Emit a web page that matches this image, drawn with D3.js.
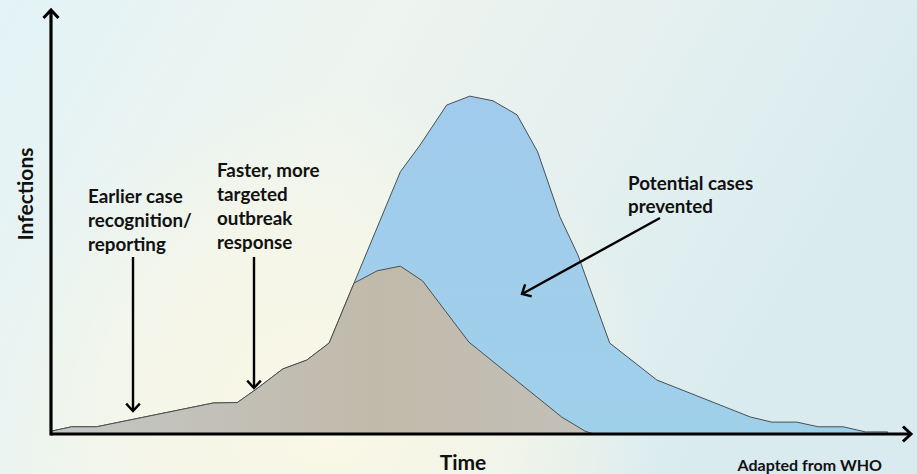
<!DOCTYPE html>
<html>
<head>
<meta charset="utf-8">
<script src="https://cdn.jsdelivr.net/npm/d3@7"></script>
<style>
  html, body { margin: 0; padding: 0; background: #eef5f3; }
  svg { display: block; }
</style>
</head>
<body>
<div id="chart"></div>
<script>
// ---------- data ----------
// time axis (0-100, arbitrary units) and infections (0-100, arbitrary units)
const timeControlled = [0, 2.3, 5.2, 18.8, 21.6, 23.7, 26.9, 29.7, 32.3, 35.2, 37.9, 40.6, 43.2, 48.6, 59.4, 62.1, 63.1];
const infectionsControlled = [0.7, 1.7, 1.7, 7.3, 7.4, 10.4, 15.3, 17.4, 21.4, 35.5, 38.4, 39.5, 36.0, 21.6, 4.0, 0.7, 0];

const timeUncontrolled = [0, 2.3, 5.2, 18.8, 21.6, 23.7, 26.9, 29.7, 32.3, 35.2, 40.6, 42.9, 46.0, 48.7, 51.4, 54.2, 56.6, 59.2, 61.3, 65.0, 70.5, 81.4, 83.9, 86.8, 89.3, 92.2, 94.8, 97.4, 97.4];
const infectionsUncontrolled = [0.7, 1.7, 1.7, 7.3, 7.4, 10.4, 15.3, 17.4, 21.4, 35.5, 61.7, 68.0, 77.4, 79.5, 78.4, 75.1, 66.4, 51.1, 42.1, 21.4, 12.7, 4.0, 2.8, 2.8, 1.7, 1.7, 0.5, 0.5, 0];

const axisLabels = { x: "Time", y: "Infections" };
const annotations = [
  { lines: ["Earlier case", "recognition/", "reporting"] },
  { lines: ["Faster, more", "targeted", "outbreak", "response"] },
  { lines: ["Potential cases", "prevented"] }
];
const sourceNote = "Adapted from WHO";

// ---------- layout ----------
const W = 917, H = 474;
const svg = d3.select("#chart").append("svg").attr("width", W).attr("height", H);
const defs = svg.append("defs");

const x = d3.scaleLinear().domain([0, 100]).range([52, 910]);
const y = d3.scaleLinear().domain([0, 100]).range([434, 9]);

// background gradients
const bg = defs.append("linearGradient").attr("id", "bg").attr("x1", 0).attr("y1", 0).attr("x2", 1).attr("y2", 0.3);
bg.append("stop").attr("offset", "0%").attr("stop-color", "#e3f3f6");
bg.append("stop").attr("offset", "40%").attr("stop-color", "#eef4ef");
bg.append("stop").attr("offset", "100%").attr("stop-color", "#d9ebef");
const cream = defs.append("radialGradient").attr("id", "cream")
  .attr("gradientUnits", "userSpaceOnUse").attr("cx", 330).attr("cy", 420).attr("r", 330);
cream.append("stop").attr("offset", "0%").attr("stop-color", "#fbf8e6").attr("stop-opacity", 1);
cream.append("stop").attr("offset", "55%").attr("stop-color", "#f8f7e6").attr("stop-opacity", 0.7);
cream.append("stop").attr("offset", "100%").attr("stop-color", "#f8f7e6").attr("stop-opacity", 0);

svg.append("rect").attr("width", W).attr("height", H).attr("fill", "url(#bg)");
svg.append("rect").attr("width", W).attr("height", H).attr("fill", "url(#cream)");

// fills
const blueG = defs.append("linearGradient").attr("id", "blueG").attr("x1", 0).attr("y1", 0).attr("x2", 0).attr("y2", 1);
blueG.append("stop").attr("offset", "0%").attr("stop-color", "#a1cbec");
blueG.append("stop").attr("offset", "100%").attr("stop-color", "#9fd0ea");
const grayG = defs.append("linearGradient").attr("id", "grayG")
  .attr("gradientUnits", "userSpaceOnUse").attr("x1", 52).attr("y1", 0).attr("x2", 593).attr("y2", 0);
grayG.append("stop").attr("offset", "0%").attr("stop-color", "#c4c6c5");
grayG.append("stop").attr("offset", "60%").attr("stop-color", "#c0baaa");
grayG.append("stop").attr("offset", "100%").attr("stop-color", "#c3c0b8");

const uncontrolled = timeUncontrolled.map((t, i) => [t, infectionsUncontrolled[i]]);
const controlled = timeControlled.map((t, i) => [t, infectionsControlled[i]]);

const area = d3.area().x(d => x(d[0])).y0(y(0)).y1(d => y(d[1]));
const line = d3.line().x(d => x(d[0])).y(d => y(d[1]));

svg.append("path").datum(uncontrolled).attr("d", area).attr("fill", "url(#blueG)");
svg.append("path").datum(uncontrolled).attr("d", line).attr("fill", "none").attr("stroke", "#4a4f52").attr("stroke-width", 1);
svg.append("path").datum(controlled).attr("d", area).attr("fill", "url(#grayG)");
svg.append("path").datum(controlled).attr("d", line).attr("fill", "none").attr("stroke", "#4a4f52").attr("stroke-width", 1);

// axes with arrowheads
function chevron(g, tx, ty, dir, size, sw) {
  let ang = dir === "up" ? -Math.PI / 2 : dir === "down" ? Math.PI / 2 : dir === "right" ? 0 : dir;
  const a1 = ang + Math.PI - 0.75, a2 = ang + Math.PI + 0.75;
  const p = d3.path();
  p.moveTo(tx + size * Math.cos(a1), ty + size * Math.sin(a1));
  p.lineTo(tx, ty);
  p.lineTo(tx + size * Math.cos(a2), ty + size * Math.sin(a2));
  g.append("path").attr("d", p.toString()).attr("fill", "none").attr("stroke", "#000")
    .attr("stroke-width", sw).attr("stroke-linejoin", "miter").attr("stroke-linecap", "butt");
}

const axes = svg.append("g");
axes.append("line").attr("x1", x(0) - 1).attr("x2", x(100)).attr("y1", y(0)).attr("y2", y(0))
  .attr("stroke", "#000").attr("stroke-width", 3.2);
axes.append("line").attr("x1", x(0) - 1).attr("x2", x(0) - 1).attr("y1", y(0) + 1.6).attr("y2", y(100) + 1)
  .attr("stroke", "#000").attr("stroke-width", 3.2);
chevron(axes, x(0) - 1, y(100) + 1, "up", 11, 3);
chevron(axes, x(100) + 1, y(0), "right", 11, 3);

// axis labels
const font = "Lato, 'Open Sans', sans-serif";
svg.append("text").attr("x", 463).attr("y", 470).attr("text-anchor", "middle")
  .attr("font-family", font).attr("font-weight", 700).attr("font-size", 21).attr("fill", "#111")
  .text(axisLabels.x);
svg.append("text").attr("transform", "translate(33,194) rotate(-90)").attr("text-anchor", "middle")
  .attr("font-family", font).attr("font-weight", 700).attr("font-size", 21).attr("fill", "#111")
  .text(axisLabels.y);
svg.append("text").attr("x", 882).attr("y", 471).attr("text-anchor", "end")
  .attr("font-family", font).attr("font-weight", 700).attr("font-size", 16).attr("fill", "#111")
  .text(sourceNote);

// annotations
const annPos = [
  { tx: 88, ty: 203, lh: 24, arrow: { x1: 133, y1: 257, x2: 133, y2: 411 } },
  { tx: 217, ty: 177, lh: 24, arrow: { x1: 254, y1: 257, x2: 254, y2: 388 } },
  { tx: 628, ty: 190, lh: 23, arrow: { x1: 660, y1: 218, x2: 522, y2: 294 } }
];
annotations.forEach((a, i) => {
  const p = annPos[i];
  const t = svg.append("text").attr("font-family", font).attr("font-weight", 700)
    .attr("font-size", 18.8).attr("fill", "#111");
  a.lines.forEach((ln, j) => {
    t.append("tspan").attr("x", p.tx).attr("y", p.ty + j * p.lh).text(ln);
  });
  const ar = p.arrow;
  svg.append("line").attr("x1", ar.x1).attr("y1", ar.y1).attr("x2", ar.x2).attr("y2", ar.y2)
    .attr("stroke", "#000").attr("stroke-width", 2.4);
  const ang = Math.atan2(ar.y2 - ar.y1, ar.x2 - ar.x1);
  chevron(svg, ar.x2, ar.y2, ang, 10, 2.4);
});
</script>
</body>
</html>
